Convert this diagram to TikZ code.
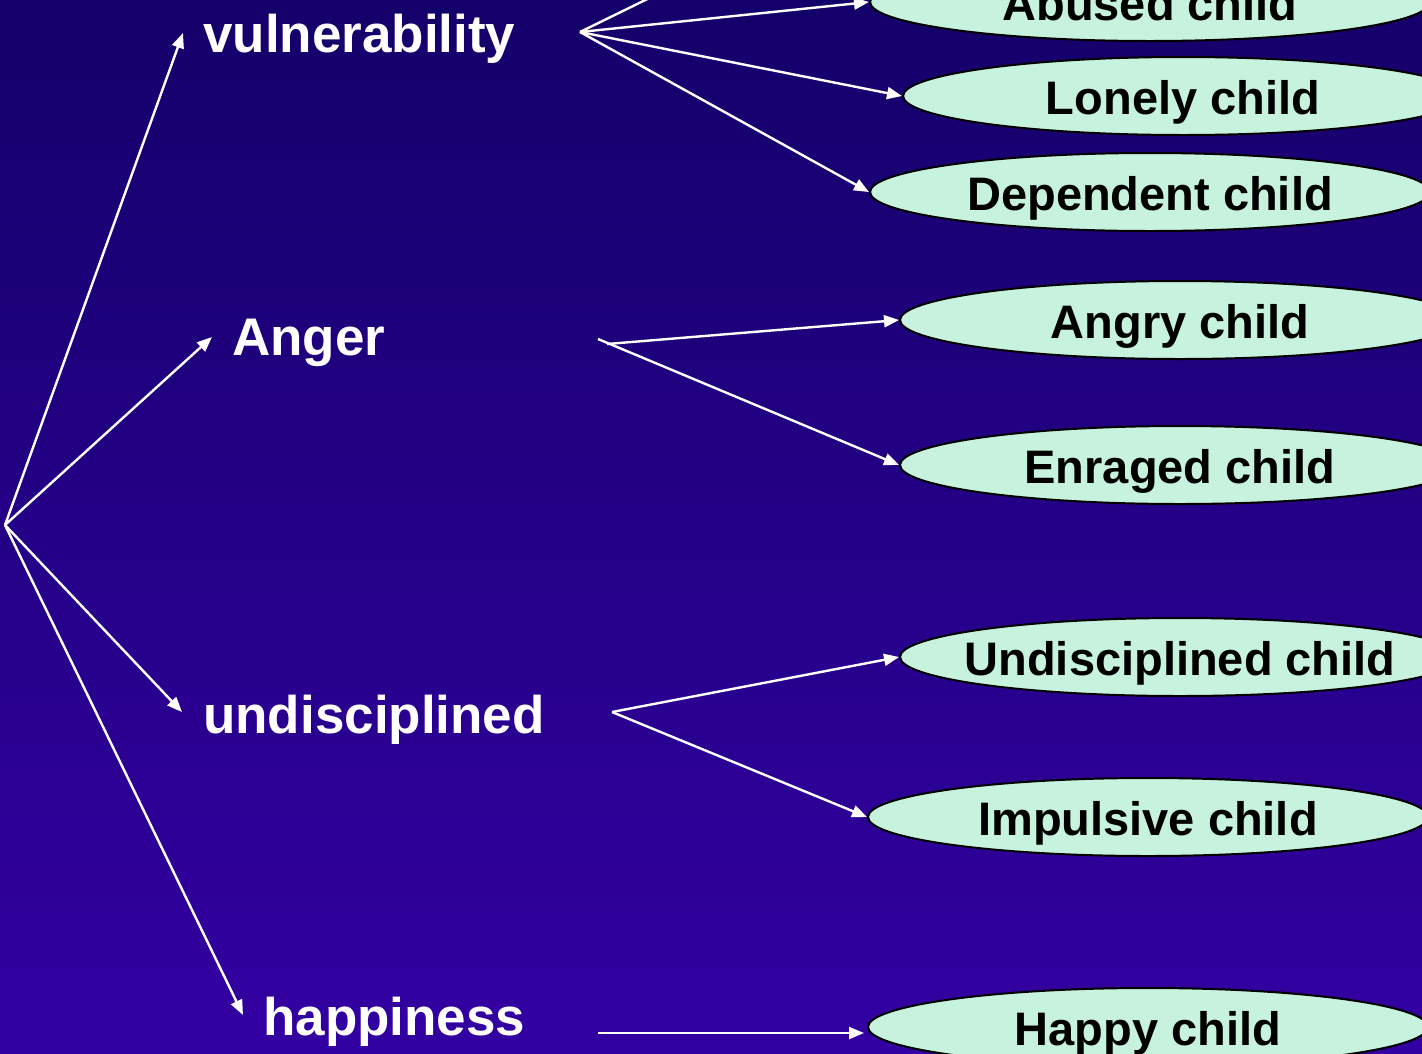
\documentclass[tikz,border=0pt]{standalone}
\usepackage{fontspec}
\setmainfont{Liberation Sans}
\usetikzlibrary{shapes.geometric,arrows.meta}
\definecolor{bgtop}{RGB}{20,0,106}
\definecolor{bgbot}{RGB}{51,0,162}
\definecolor{mint}{RGB}{198,242,222}
% zero-size label so every ellipse keeps the same outline
\newcommand{\childtext}[1]{\raisebox{-18pt}[0pt][0pt]{\makebox[0pt]{#1}}}
\tikzset{
  topic/.style={anchor=base west,text=white,inner sep=0pt,font=\fontsize{53}{60}\selectfont\bfseries},
  childbox/.style={ellipse,draw=black,line width=2pt,fill=mint,minimum width=560pt,minimum height=78pt,inner sep=0pt,font=\fontsize{47}{54}\selectfont\bfseries},
  link/.style={draw=white,line width=2.4pt,-{Triangle[length=15pt,width=12pt]}},
  plain/.style={draw=white,line width=2.4pt}
}
\begin{document}
\begin{tikzpicture}[x=1pt,y=-1pt]
\useasboundingbox (0,0) rectangle (1422,1053);
\clip (0,0) rectangle (1422,1053);
\shade[top color=bgtop,bottom color=bgbot] (0,0) rectangle (1422,1053);

% left-hand topics
\node[topic] (vul) at (203,52) {vulnerability};
\node[topic] (ang) at (232,355) {Anger};
\node[topic] (und) at (203,733) {undisciplined};
\node[topic] (hap) at (263,1035) {happiness};

% outcome ellipses
\node[childbox] (abused) at (1150,2) {\childtext{Abused child}};
\node[childbox] (lonely) at (1183,96) {\childtext{Lonely child}};
\node[childbox] (depend) at (1150,192) {\childtext{Dependent child}};
\node[childbox] (angry) at (1180,320) {\childtext{Angry child}};
\node[childbox] (enraged) at (1180,465) {\childtext{Enraged child}};
\node[childbox] (undch) at (1180,657) {\childtext{Undisciplined child}};
\node[childbox] (impuls) at (1148,817) {\childtext{Impulsive child}};
\node[childbox] (happy) at (1148,1027) {\childtext{Happy child}};

% branch points and arrow ends
\coordinate (root) at (5,525);
\coordinate (vultip) at (183,33);
\coordinate (angtip) at (212,337);
\coordinate (undtip) at (182,712);
\coordinate (haptip) at (243,1015);
\coordinate (vulhub) at (580,32);
\coordinate (vulup) at (676,-15);
\coordinate (anghubA) at (598,339);
\coordinate (anghubB) at (607,344);
\coordinate (undhub) at (612,712);
\coordinate (haphub) at (598,1033);
\coordinate (happyend) at (864,1033);

% root fan
\draw[link] (root) -- (vultip);
\draw[link] (root) -- (angtip);
\draw[link] (root) -- (undtip);
\draw[link] (root) -- (haptip);

% vulnerability fan
\draw[plain] (vulhub) -- (vulup);
\draw[link] (vulhub) -- (abused.west);
\draw[link] (vulhub) -- (lonely.west);
\draw[link] (vulhub) -- (depend.west);

% anger fan
\draw[link] (anghubB) -- (angry.west);
\draw[link] (anghubA) -- (enraged.west);

% undisciplined fan
\draw[link] (undhub) -- (undch.west);
\draw[link] (undhub) -- (impuls.west);

% happiness
\draw[link] (haphub) -- (happyend);
\end{tikzpicture}
\end{document}
